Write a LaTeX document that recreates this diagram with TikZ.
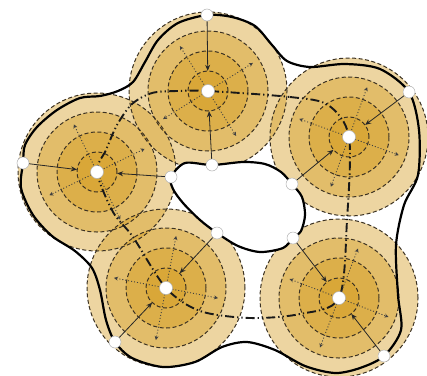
\documentclass[tikz,border=0pt]{standalone}
\usetikzlibrary{arrows.meta}
\definecolor{gold}{RGB}{212,156,30}
\definecolor{ringgray}{RGB}{60,50,35}
\begin{document}
\begin{tikzpicture}[x=1pt,y=-1pt,
  ctr/.style={circle,minimum size=40pt,inner sep=0pt},
  cdot/.style={circle,fill=white,draw=gray!60,line width=0.5pt,minimum size=13pt,inner sep=0pt},
  bdot/.style={circle,fill=white,draw=gray!60,line width=0.5pt,minimum size=12pt,inner sep=0pt},
  ringfill/.style={fill=gold,fill opacity=0.42},
  ringline/.style={draw=ringgray,line width=1pt,dash pattern=on 4pt off 2.5pt},
  boundary/.style={line width=2.2pt,black},
  chain/.style={line width=1.9pt,black!90,dash pattern=on 9pt off 3pt on 1.3pt off 3pt on 1.3pt off 3pt},
  spoke/.style={line width=0.9pt,draw=black!75,dash pattern=on 1pt off 2pt,{Stealth[length=4pt,width=4pt]}-{Stealth[length=4pt,width=4pt]}},
  arr/.style={line width=0.8pt,draw=black!85,-{Stealth[length=6pt,width=5pt]}}]
\useasboundingbox (0,0) rectangle (427,375);

% cluster centres
\node[ctr] (cT)  at (208,91)  {};
\node[ctr] (cR)  at (349,137) {};
\node[ctr] (cBR) at (339,298) {};
\node[ctr] (cBL) at (166,288) {};
\node[ctr] (cL)  at (97,172)  {};

% fills
\foreach \c in {cT,cR,cBR,cBL,cL}{
  \foreach \r in {79,60,40,20}{
    \fill[ringfill] (\c) circle (\r pt);
  }
}
% dashed rings
\foreach \c in {cT,cR,cBR,cBL,cL}{
  \foreach \r in {79,60,40,20}{
    \draw[ringline] (\c) circle (\r pt);
  }
}

% boundary dots (positions)
\coordinate (pT1)  at (207,15);
\coordinate (pT2)  at (212,165);
\coordinate (pR1)  at (409,92);
\coordinate (pR2)  at (292,184);
\coordinate (pBR1) at (293,238);
\coordinate (pBR2) at (384,356);
\coordinate (pBL1) at (217,233);
\coordinate (pBL2) at (115,342);
\coordinate (pL1)  at (23,163);
\coordinate (pL2)  at (171,177);

% hole
\fill[white] plot[smooth cycle, tension=0.5] coordinates {(pL2) (185,163) (pT2) (243,162) (265,164) (281,172) (pR2) (302,197) (305,215) (301,231) (pBR1) (283,248) (260,252) (238,246) (pBL1) (200,220) (183,203) (173,189)};

% thick outer and inner boundary
\draw[boundary] plot[smooth cycle, tension=0.5] coordinates {(pT1) (232,17) (255,26) (272,45) (287,61) (310,67) (345,64) (380,69) (pR1) (419,130) (418,175) (404,205) (396,245) (398,295) (401,330) (pBR2) (360,368) (335,373) (305,366) (275,350) (247,342) (222,347) (195,362) (163,367) (132,358) (pBL2) (106,320) (100,290) (92,268) (75,251) (52,236) (33,215) (21,188) (pL1) (25,145) (37,127) (57,110) (80,98) (100,96) (118,91) (133,82) (145,62) (158,40) (178,23)};
\draw[boundary] plot[smooth cycle, tension=0.5] coordinates {(pL2) (185,163) (pT2) (243,162) (265,164) (281,172) (pR2) (302,197) (305,215) (301,231) (pBR1) (283,248) (260,252) (238,246) (pBL1) (200,220) (183,203) (173,189)};

% dash-dot chain through the centres
\draw[chain] plot[smooth cycle, tension=0.5] coordinates {(cT.center) (290,97) (328,105) (cR.center) (347,220) (cBR.center) (300,314) (250,318) (200,311) (cBL.center) (133,237) (113,212) (cL.center) (106,150) (117,125) (132,104) (152,93) (177,91)};

% dotted spokes
\foreach \c/\a in {cT/32,cT/122,cL/26,cL/116,cR/70,cR/160,cBL/79,cBL/169,cBR/69,cBR/159}{
  \draw[spoke] ([shift={(\a:53pt)}]\c.center) -- ([shift={(\a+180:53pt)}]\c.center);
}

% boundary dot nodes
\foreach \p in {T1,T2,R1,R2,BR1,BR2,BL1,BL2,L1,L2}{
  \node[bdot] (d\p) at (p\p) {};
}

% arrows from boundary dots to inner ring
\draw[arr] (dT1) -- (cT);
\draw[arr] (dT2) -- (cT);
\draw[arr] (dR1) -- (cR);
\draw[arr] (dR2) -- (cR);
\draw[arr] (dBR1) -- (cBR);
\draw[arr] (dBR2) -- (cBR);
\draw[arr] (dBL1) -- (cBL);
\draw[arr] (dBL2) -- (cBL);
\draw[arr] (dL1) -- (cL);
\draw[arr] (dL2) -- (cL);

% centre white dots
\foreach \c in {T,R,BR,BL,L}{
  \node[cdot] (h\c) at (c\c) {};
}
\end{tikzpicture}
\end{document}
